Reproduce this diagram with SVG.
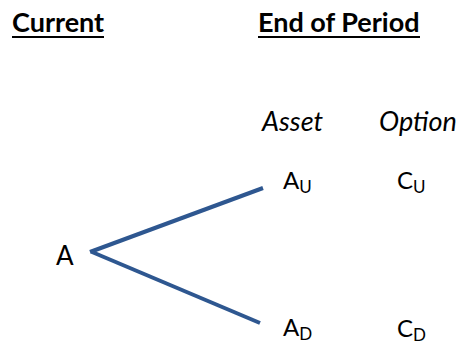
<svg xmlns="http://www.w3.org/2000/svg" width="460" height="345" viewBox="0 0 460 345">
<style>
text{font-family:Lato,"Open Sans","Liberation Sans",sans-serif;fill:#000}
.h{font-weight:bold;font-size:27px}
.u{stroke:#000;stroke-width:2.2}
.c{font-style:italic;font-size:27px}
.n{font-size:24px}
.s{font-size:17px}
.e{stroke:#2e5790;stroke-width:4;fill:none;stroke-linecap:butt}
</style>
<rect width="460" height="345" fill="#fff"/>
<g id="headers">
<text class="h" x="12" y="32">Current</text>
<line class="u" x1="12" y1="37" x2="104" y2="37"/>
<text class="h" x="258" y="32">End of Period</text>
<line class="u" x1="258" y1="37" x2="420" y2="37"/>
<text class="c" x="262" y="131">Asset</text>
<text class="c" x="379" y="131">Option</text>
</g>
<g id="connectors">
<line class="e" x1="90" y1="252" x2="263" y2="188"/>
<line class="e" x1="92" y1="252" x2="260" y2="323"/>
</g>
<g id="nodeA"><text x="56" y="265" style="font-size:26px">A</text></g>
<g id="nodeAU"><text class="n" x="283" y="189">A<tspan class="s" dy="4">U</tspan></text></g>
<g id="nodeCU"><text class="n" x="397" y="189">C<tspan class="s" dy="4">U</tspan></text></g>
<g id="nodeAD"><text class="n" x="283" y="336">A<tspan class="s" dy="4">D</tspan></text></g>
<g id="nodeCD"><text class="n" x="397" y="337">C<tspan class="s" dy="4">D</tspan></text></g>
</svg>
